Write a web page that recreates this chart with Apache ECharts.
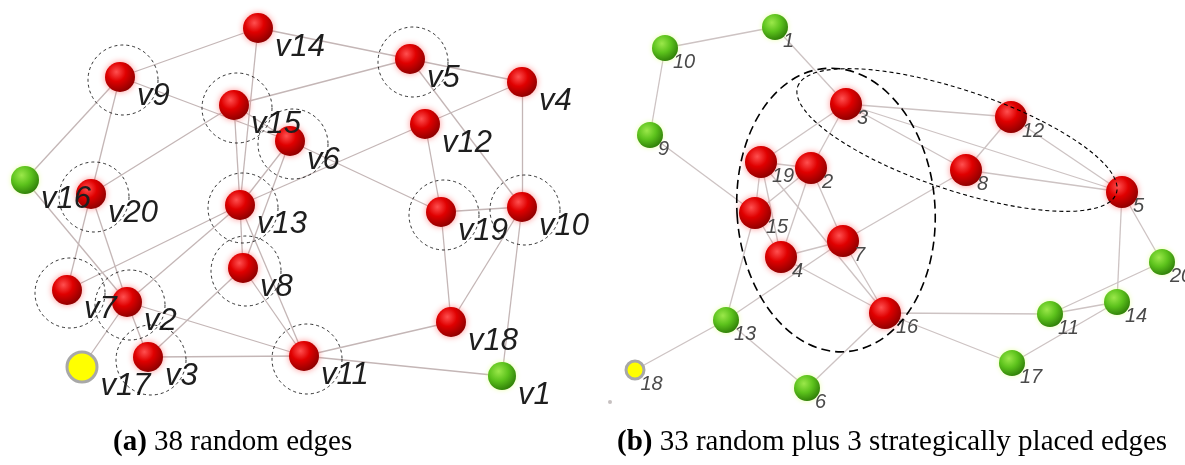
<!DOCTYPE html>
<html>
<head>
<meta charset="utf-8">
<script src="https://cdn.jsdelivr.net/npm/echarts@6/dist/echarts.min.js"></script>
<style>
html,body{margin:0;padding:0;background:#fff;}
#chart{width:1185px;height:465px;}
</style>
</head>
<body>
<div id="chart"></div>
<script>
// ---- Data (positions, in picture units) ----
// left graph (a): [name, x, y, kind]  kind: r=red, g=green, y=yellow
const leftNodes = [
  ['v14',258,28,'r'],['v9',120,77,'r'],['v5',410,59,'r'],['v4',522,82,'r'],
  ['v15',234,105,'r'],['v6',290,141,'r'],['v12',425,124,'r'],['v16',25,180,'g'],
  ['v20',91,194,'r'],['v13',240,205,'r'],['v19',441,212,'r'],['v10',522,207,'r'],
  ['v8',243,268,'r'],['v7',67,290,'r'],['v2',127,302,'r'],['v18',451,322,'r'],
  ['v3',148,357,'r'],['v17',82,367,'y'],['v11',304,356,'r'],['v1',502,376,'g']
];
const leftEdges = [
  ['v14','v9'],['v14','v5'],['v14','v13'],['v9','v6'],['v9','v16'],['v9','v20'],
  ['v15','v5'],['v20','v15'],['v15','v13'],['v16','v2'],['v20','v7'],['v20','v2'],
  ['v7','v13'],['v2','v13'],['v2','v11'],['v2','v3'],['v17','v2'],['v3','v11'],
  ['v3','v8'],['v8','v11'],['v13','v11'],['v6','v13'],['v6','v8'],['v13','v12'],
  ['v12','v4'],['v6','v19'],['v5','v4'],['v5','v10'],['v4','v10'],['v12','v19'],
  ['v19','v10'],['v19','v18'],['v10','v18'],['v10','v1'],['v18','v11'],['v11','v1'],
  ['v13','v8'],['v15','v6']
];
const leftCircled = ['v9','v5','v15','v6','v20','v13','v19','v10','v8','v7','v2','v3','v11'];

// right graph (b)
const rightNodes = [
  ['10',665,48,'g'],['1',775,27,'g'],['9',650,135,'g'],['3',846,104,'r'],
  ['12',1011,117,'r'],['8',966,170,'r'],['5',1122,192,'r'],['19',761,162,'r'],
  ['2',811,168,'r'],['15',755,213,'r'],['7',843,241,'r'],['4',781,257,'r'],
  ['16',885,313,'r'],['13',726,320,'g'],['20',1162,262,'g'],['14',1117,302,'g'],
  ['11',1050,314,'g'],['17',1012,363,'g'],['6',807,388,'g'],['18',635,370,'y']
];
const rightEdges = [
  ['10','1'],['10','9'],['1','3'],['9','15'],['3','19'],['3','2'],['3','12'],
  ['3','5'],['3','8'],['12','8'],['12','5'],['8','5'],['8','7'],['5','20'],
  ['5','14'],['20','11'],['11','14'],['14','17'],['16','11'],['16','17'],
  ['16','6'],['13','6'],['13','18'],['13','15'],['13','7'],['19','2'],
  ['19','15'],['2','15'],['2','4'],['2','7'],['4','7'],['4','16'],['7','16'],
  ['19','16'],['15','4'],['19','4']
];
// small stray dot in panel (b)
const strayDots = [[610,402]];
// ellipses: [cx, cy, rx, ry, tiltDeg, dashKind]
const ellipses = [
  [836,210,99,142,4,'long'],
  [957,140,168,50,-18.5,'short']
];
// captions
const captionA = '{b|(a)} 38 random edges';
const captionB = '{b|(b)} 33 random plus 3 strategically placed edges';

// ---- Styles ----
const G = echarts.graphic;
function ball(kind){
  if(kind==='r') return {
    color: new G.RadialGradient(0.38,0.33,0.7,[
      {offset:0,color:'#ff5050'},{offset:0.45,color:'#e00000'},{offset:1,color:'#8c0000'}]),
    shadowBlur:6, shadowColor:'rgba(255,60,60,0.55)'
  };
  if(kind==='g') return {
    color: new G.RadialGradient(0.38,0.33,0.7,[
      {offset:0,color:'#9be84a'},{offset:0.5,color:'#5cc21c'},{offset:1,color:'#2f7f08'}]),
    shadowBlur:5, shadowColor:'rgba(220,255,120,0.6)'
  };
  return {color:'#ffff00', borderColor:'#a8a8a8', borderWidth:3};
}

function makeNodes(list, sizes){
  return list.map(n=>({
    name:n[0], value:[n[1],n[2]],
    symbolSize: sizes[n[3]],
    itemStyle: ball(n[3])
  }));
}
const leftData = makeNodes(leftNodes,{r:30,g:28,y:30});
const rightData = makeNodes(rightNodes,{r:32,g:26,y:18});
const lookup = {};
leftNodes.forEach(n=>lookup[n[0]]=[n[1],n[2]]);

const capStyle = {fontFamily:'Liberation Serif',fontSize:29,fontWeight:'normal',color:'#000',
  rich:{b:{fontFamily:'Liberation Serif',fontSize:29,fontWeight:'bold',color:'#000'}}};

const chart = echarts.init(document.getElementById('chart'),null,{renderer:'canvas'});
chart.setOption({
  animation:false,
  backgroundColor:'#fff',
  grid:{left:0,right:0,top:0,bottom:0},
  xAxis:{type:'value',min:0,max:1185,show:false},
  yAxis:{type:'value',min:0,max:465,inverse:true,show:false},
  title:[
    {text:captionA,left:108,top:423,textStyle:capStyle},
    {text:captionB,left:612,top:423,textStyle:capStyle}
  ],
  series:[
    {
      type:'graph',coordinateSystem:'cartesian2d',layout:'none',silent:true,z:2,
      symbol:'circle',
      data:leftData,
      links:leftEdges.map(e=>({source:e[0],target:e[1]})),
      lineStyle:{color:'#c4b6b6',width:1.3,opacity:1,curveness:0},
      label:{show:true,position:'right',distance:2,offset:[0,19],
        fontFamily:'Liberation Sans',fontStyle:'italic',fontSize:31,color:'#1e1e1e'},
      emphasis:{disabled:true}
    },
    {
      type:'graph',coordinateSystem:'cartesian2d',layout:'none',silent:true,z:2,
      symbol:'circle',
      data:rightData,
      links:rightEdges.map(e=>({source:e[0],target:e[1]})),
      lineStyle:{color:'#cdc3c3',width:1.3,opacity:1,curveness:0},
      label:{show:true,position:'right',distance:-5,offset:[0,14],
        fontFamily:'Liberation Sans',fontStyle:'italic',fontSize:20,color:'#4a4a4a'},
      emphasis:{disabled:true}
    },
    {
      type:'scatter',silent:true,z:3,
      data:strayDots,symbol:'circle',symbolSize:4,
      itemStyle:{color:'#b8b0b0'}
    },
    {
      type:'scatter',silent:true,z:5,
      data:leftCircled.map(n=>lookup[n]),
      symbol:'circle',symbolSize:70,symbolOffset:[3,3],
      itemStyle:{color:'rgba(0,0,0,0)',borderColor:'#000',borderWidth:1,borderType:[3,3]}
    },
    {
      type:'custom',silent:true,z:5,
      data:ellipses,
      renderItem:function(params,api){
        const c = api.coord([api.value(0),api.value(1)]);
        const p2 = api.coord([api.value(0)+api.value(2),api.value(1)+api.value(3)]);
        const rx = Math.abs(p2[0]-c[0]), ry = Math.abs(p2[1]-c[1]);
        const long = ellipses[params.dataIndex][5]==='long';
        return {
          type:'ellipse', x:c[0], y:c[1],
          rotation: api.value(4)*Math.PI/180,
          shape:{cx:0,cy:0,rx:rx,ry:ry},
          style:{fill:'none',stroke:'#000',lineWidth: long?1.6:1.1,
            lineDash: long?[9,5]:[4,3]}
        };
      }
    }
  ]
});
</script>
</body>
</html>
